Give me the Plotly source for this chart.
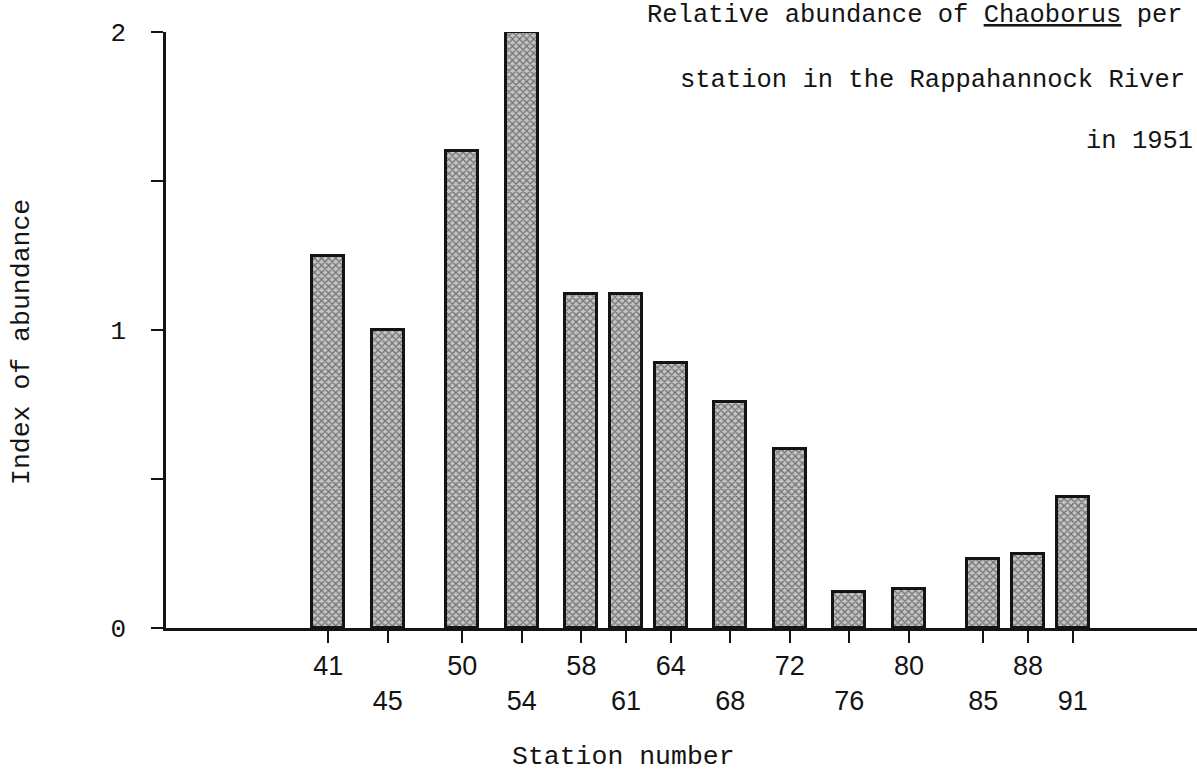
import plotly.graph_objects as go

# ---- data ----
stations = [41, 45, 50, 54, 58, 61, 64, 68, 72, 76, 80, 85, 88, 91]
abundance = [1.25, 1.0, 1.6, 2.0, 1.12, 1.12, 0.89, 0.76, 0.60, 0.12, 0.13, 0.23, 0.25, 0.44]
station_labels = ["41", "45", "50", "54", "58", "61", "64", "68", "72", "76", "80", "85", "88", "91"]
y_tickvals = [0, 0.5, 1, 1.5, 2]
y_ticktext = ["0", "", "1", "", "2"]

title_lines = [
    "Relative abundance of <u>Chaoborus</u> per",
    "station in the Rappahannock River",
    "in 1951",
]

W, H = 1197, 774
ML, MR, MT, MB = 166, 0, 32, 146
PW, PH = W - ML - MR, H - MT - MB

def px(x):
    return (x - ML) / PW

def py(y):
    return (H - MB - y) / PH

INK = "#141414"
MONO = "Liberation Mono, DejaVu Sans Mono, monospace"
HAND = "Liberation Sans, Arial, sans-serif"

# staggered tick labels: every other label drops to a second line
ticktext_x = [lab if i % 2 == 0 else "<br>" + lab for i, lab in enumerate(station_labels)]

fig = go.Figure(
    go.Bar(
        x=stations,
        y=abundance,
        width=2.15,
        marker=dict(
            color="#b8b8b8",
            line=dict(color=INK, width=3),
            pattern=dict(shape="x", fgcolor="#1e1e1e", bgcolor="#c4c4c4", size=5, solidity=0.45),
        ),
        hoverinfo="x+y",
    )
)

fig.update_layout(
    width=W,
    height=H,
    margin=dict(l=ML, r=MR, t=MT, b=MB, pad=0),
    paper_bgcolor="white",
    plot_bgcolor="white",
    showlegend=False,
    bargap=0,
    font=dict(family=MONO, color=INK),
)

fig.update_xaxes(
    range=[30.1, 99.35],
    tickvals=stations,
    ticktext=ticktext_x,
    ticks="outside",
    ticklen=12,
    tickwidth=2,
    tickcolor=INK,
    tickfont=dict(family=HAND, size=27, color=INK),
    showline=True,
    linecolor=INK,
    linewidth=2.5,
    showgrid=False,
    zeroline=False,
)

fig.update_yaxes(
    range=[0, 2],
    tickvals=y_tickvals,
    ticktext=y_ticktext,
    ticks="outside",
    ticklen=12,
    tickwidth=2,
    tickcolor=INK,
    ticklabelstandoff=20,
    tickfont=dict(family=MONO, size=26, color=INK),
    showline=True,
    linecolor=INK,
    linewidth=2.5,
    showgrid=False,
    zeroline=False,
)

annots = []
title_pos = [(645, 15), (678, 80), (1084, 141)]
for text, (tx, ty) in zip(title_lines, title_pos):
    annots.append(dict(
        text=text, xref="paper", yref="paper", x=px(tx), y=py(ty),
        xanchor="left", yanchor="middle", showarrow=False,
        font=dict(family=MONO, size=25.5, color=INK),
    ))

annots.append(dict(
    text="Index of abundance", xref="paper", yref="paper", x=px(22), y=py(342),
    xanchor="center", yanchor="middle", textangle=-90, showarrow=False,
    font=dict(family=MONO, size=26.5, color=INK),
))
annots.append(dict(
    text="Station number", xref="paper", yref="paper", x=px(623), y=py(757),
    xanchor="center", yanchor="middle", showarrow=False,
    font=dict(family=MONO, size=26.5, color=INK),
))
fig.update_layout(annotations=annots)

fig.write_html("out.html")
